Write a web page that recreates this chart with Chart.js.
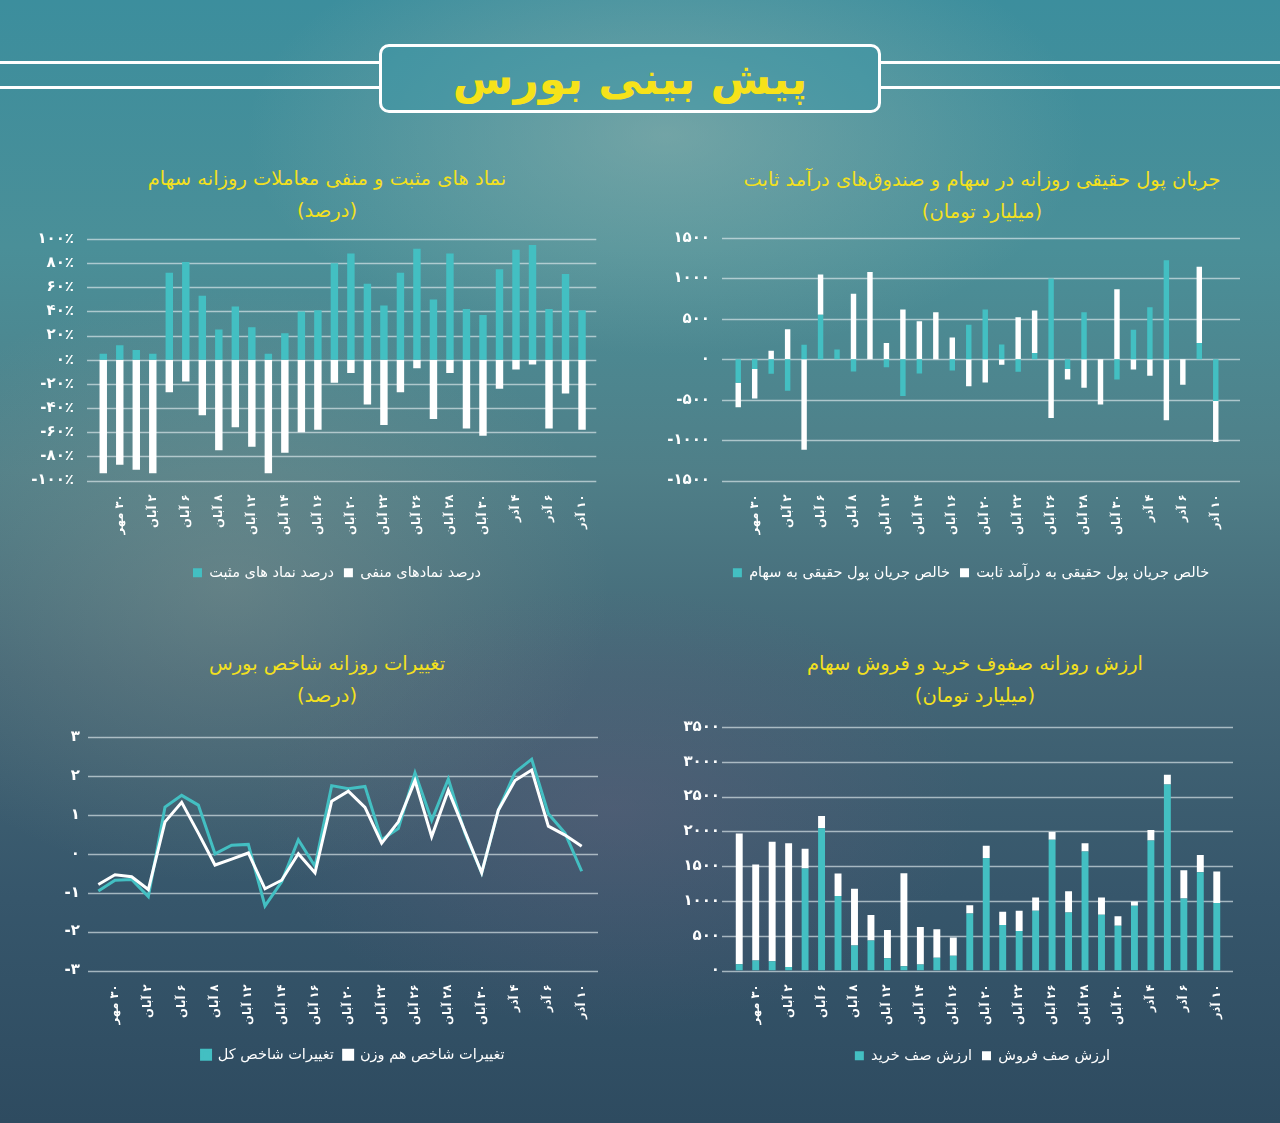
<!DOCTYPE html>
<html lang="fa">
<head>
<meta charset="utf-8">
<script src="https://cdn.jsdelivr.net/npm/chart.js@4.4.0/dist/chart.umd.min.js"></script>
<style>
html, body { margin: 0; padding: 0; }
body {
  width: 1280px; height: 1123px; position: relative; overflow: hidden;
  font-family: 'DejaVu Sans', sans-serif;
  background:
    radial-gradient(ellipse 420px 220px at 52% 12%, rgba(170,190,180,0.45), rgba(170,190,180,0) 100%),
    radial-gradient(ellipse 380px 300px at 18% 52%, rgba(150,160,150,0.35), rgba(150,160,150,0) 100%),
    radial-gradient(ellipse 360px 220px at 48% 72%, rgba(110,95,125,0.35), rgba(110,95,125,0) 100%),
    linear-gradient(180deg, #3c8e9d 0%, #4a8f98 22%, #4f7f88 42%, #436676 60%, #36566b 80%, #2e4b60 100%);
}
.hline { position: absolute; height: 3px; background: #fff; }
.titlebox {
  position: absolute; left: 379px; top: 44px; width: 496px; height: 63px;
  border: 3px solid #fff; border-radius: 10px; background: rgba(60,150,165,0.5);
  color: #f6e21a; font-size: 44px; font-weight: bold; text-align: center; line-height: 63px;
  direction: rtl;
}
.ctitle {
  position: absolute; color: #f3e01e; font-size: 19.5px; text-align: center;
  direction: rtl; line-height: 32px;
}
.wrap { position: absolute; }
</style>
</head>
<body>

<div class="hline" style="left:0;top:61px;width:379px"></div>
<div class="hline" style="left:0;top:86px;width:379px"></div>
<div class="hline" style="left:881px;top:61px;width:399px"></div>
<div class="hline" style="left:881px;top:86px;width:399px"></div>
<div class="titlebox">پیش بینی بورس</div>

<div class="ctitle" style="left:30px;top:163px;width:594px">نماد های مثبت و منفی معاملات روزانه سهام<br>(درصد)</div>
<div class="ctitle" style="left:685px;top:164px;width:594px">جریان پول حقیقی روزانه در سهام و صندوق‌های درآمد ثابت<br>(میلیارد تومان)</div>
<div class="ctitle" style="left:30px;top:648px;width:594px">تغییرات روزانه شاخص بورس<br>(درصد)</div>
<div class="ctitle" style="left:678px;top:648px;width:594px">ارزش روزانه صفوف خرید و فروش سهام<br>(میلیارد تومان)</div>

<div class="wrap" style="left:20px;top:209px;width:582px;height:381px"><canvas id="chartPct"></canvas></div>
<div class="wrap" style="left:650px;top:209px;width:600px;height:381px"><canvas id="chartFlow"></canvas></div>
<div class="wrap" style="left:20px;top:718px;width:590px;height:354px"><canvas id="chartIndex"></canvas></div>
<div class="wrap" style="left:650px;top:707px;width:595px;height:366px"><canvas id="chartQueue"></canvas></div>

<script>
// tick labels (every second trading day is labelled)
var tickLabels = ['۳۰ مهر', '۲ آبان', '۶ آبان', '۸ آبان', '۱۲ آبان', '۱۴ آبان', '۱۶ آبان', '۲۰ آبان',
                  '۲۲ آبان', '۲۶ آبان', '۲۸ آبان', '۳۰ آبان', '۴ آذر', '۶ آذر', '۱۰ آذر'];

// positive / negative symbols (%)
var posPct = [5, 12, 8, 5, 72, 81, 53, 25, 44, 27, 5, 22, 40, 41, 80, 88, 63, 45, 72, 92, 50, 88, 42, 37, 75, 91, 95, 42, 71, 41];
var negPct = [-94, -87, -91, -94, -27, -18, -46, -75, -56, -72, -94, -77, -60, -58, -19, -11, -37, -54, -27, -7, -49, -11, -57, -63, -24, -8, -4, -57, -28, -58];

// real money flow (billion toman)
var flowStock = [-290, -120, -180, -390, 180, 550, 120, -150, 0, -100, -455, -175, 0, -138, 427, 614, 183, -154, 77, 1000, -122, 581, 0, -252, 366, 642, 1224, 0, 200, -516];
var flowFixed = [-305, -365, 105, 370, -1120, 500, 0, 810, 1080, 200, 615, 470, 580, 268, -333, -289, -69, 520, 525, -728, -130, -354, -560, 866, -126, -203, -756, -315, 945, -508];

// index change (%)
var totalIndex = [-0.96, -0.68, -0.66, -1.10, 1.20, 1.50, 1.25, 0.0, 0.22, 0.24, -1.34, -0.72, 0.36, -0.32, 1.75, 1.67, 1.73, 0.36, 0.65, 2.08, 0.86, 1.92, 0.53, -0.49, 1.12, 2.09, 2.43, 1.03, 0.53, -0.45];
var ewIndex = [-0.79, -0.54, -0.59, -0.92, 0.82, 1.32, 0.53, -0.29, -0.14, 0.02, -0.90, -0.68, 0.0, -0.49, 1.35, 1.61, 1.19, 0.27, 0.82, 1.88, 0.44, 1.63, 0.57, -0.49, 1.12, 1.88, 2.15, 0.71, 0.48, 0.19];

// buy / sell queues (billion toman)
var buyQueue = [90, 142, 133, 52, 1465, 2044, 1072, 360, 431, 175, 62, 85, 185, 213, 820, 1617, 654, 569, 858, 1878, 834, 1712, 801, 645, 929, 1868, 2674, 1034, 1413, 972];
var sellQueue = [1878, 1380, 1716, 1778, 285, 175, 322, 816, 366, 408, 1337, 541, 408, 261, 119, 175, 190, 289, 190, 113, 304, 118, 247, 133, 62, 152, 138, 407, 247, 450];

var TEAL = '#43bfc2';
var WHITE = '#ffffff';
var GRID = 'rgba(225,235,238,0.65)';

var cats = [];
for (var i = 0; i < posPct.length; i++) {
  cats.push(i % 2 ? tickLabels[(i - 1) / 2] : '');
}

function toFa(s) {
  return String(s).replace(/\d/g, function (d) { return '۰۱۲۳۴۵۶۷۸۹'[d]; });
}

// horizontal grid lines a bit wider than the bar area (like the excel original)
var extGrid = {
  id: 'extGrid',
  defaults: { left: 0, right: 0 },
  beforeDatasetsDraw: function (chart, args, opts) {
    var y = chart.scales.y, a = chart.chartArea, ctx = chart.ctx;
    ctx.save();
    ctx.strokeStyle = GRID;
    ctx.lineWidth = 1.3;
    y.ticks.forEach(function (t, i) {
      var py = Math.round(y.getPixelForTick(i)) + 0.5;
      ctx.beginPath();
      ctx.moveTo(a.left - opts.left, py);
      ctx.lineTo(a.right + opts.right, py);
      ctx.stroke();
    });
    ctx.restore();
  }
};

// move legend sideways
var legendShift = {
  id: 'legendShift',
  defaults: { dx: 0 },
  afterLayout: function (chart, args, opts) {
    chart.legend.left += opts.dx;
    chart.legend.right += opts.dx;
  }
};

Chart.register(extGrid, legendShift);
Chart.defaults.font.family = "'DejaVu Sans', sans-serif";
Chart.defaults.color = '#ffffff';
Chart.defaults.animation = false;
Chart.defaults.maintainAspectRatio = false;
Chart.defaults.plugins.tooltip.enabled = false;

function xAxis(h) {
  return {
    stacked: true,
    grid: { display: false },
    border: { display: false },
    ticks: {
      autoSkip: false, minRotation: 90, maxRotation: 90, padding: 6,
      color: '#fff', font: { size: 11.5, weight: 'bold' },
      // RLM so the day number reads first (right-to-left)
      callback: function (v, i) { return cats[i] ? '\u200F' + cats[i] : ''; }
    },
    afterFit: function (s) { s.height = h; }
  };
}

function yAxis(min, max, step, w, pad, fmt) {
  return {
    stacked: true, min: min, max: max,
    grid: { display: false, drawTicks: false },
    border: { display: false },
    ticks: {
      stepSize: step, padding: pad, color: '#fff',
      font: { size: 15, weight: 'bold' },
      callback: fmt
    },
    afterFit: function (s) { s.width = w; }
  };
}

function legendOpts(rev) {
  return {
    position: 'bottom', reverse: !!rev,
    labels: { boxWidth: 9, boxHeight: 9, padding: 10, color: '#fff', font: { size: 14.5 } }
  };
}

new Chart(document.getElementById('chartPct'), {
  type: 'bar',
  data: {
    labels: cats,
    datasets: [
      { label: 'درصد نماد های مثبت', data: posPct, backgroundColor: TEAL, barPercentage: 0.45, categoryPercentage: 1 },
      { label: 'درصد نمادهای منفی', data: negPct, backgroundColor: WHITE, barPercentage: 0.45, categoryPercentage: 1 }
    ]
  },
  options: {
    layout: { padding: { top: 10, right: 10, bottom: 0, left: 0 } },
    scales: {
      x: xAxis(75),
      y: yAxis(-100, 100, 20, 75, 21, function (v) { return (v < 0 ? '-' : '') + toFa(Math.abs(v)) + '٪'; })
    },
    plugins: { legend: legendOpts(), extGrid: { left: 8, right: 6 }, legendShift: { dx: 31 } }
  }
});

new Chart(document.getElementById('chartFlow'), {
  type: 'bar',
  data: {
    labels: cats,
    datasets: [
      { label: 'خالص جریان پول حقیقی به سهام', data: flowStock, backgroundColor: TEAL, barPercentage: 0.33, categoryPercentage: 1 },
      { label: 'خالص جریان پول حقیقی به درآمد ثابت', data: flowFixed, backgroundColor: WHITE, barPercentage: 0.33, categoryPercentage: 1 }
    ]
  },
  options: {
    layout: { padding: { top: 10, right: 26, bottom: 0, left: 0 } },
    scales: {
      x: xAxis(75),
      y: yAxis(-1500, 1500, 500, 80, 20, function (v) { return (v < 0 ? '-' : '') + toFa(Math.abs(v)); })
    },
    plugins: { legend: legendOpts(), extGrid: { left: 8, right: 16 }, legendShift: { dx: 34 } }
  }
});

new Chart(document.getElementById('chartIndex'), {
  type: 'line',
  data: {
    labels: cats,
    datasets: [
      { label: 'تغییرات شاخص هم وزن', data: ewIndex, borderColor: WHITE, backgroundColor: WHITE, borderWidth: 3, pointRadius: 0, tension: 0 },
      { label: 'تغییرات شاخص کل', data: totalIndex, borderColor: TEAL, backgroundColor: TEAL, borderWidth: 3, pointRadius: 0, tension: 0 }
    ]
  },
  options: {
    layout: { padding: { top: 10, right: 20, bottom: 0, left: 0 } },
    scales: {
      x: Object.assign(xAxis(67), { offset: true, stacked: false }),
      y: Object.assign(yAxis(-3, 3, 1, 70, 10, function (v) { return (v < 0 ? '-' : '') + toFa(Math.abs(v)); }), { stacked: false })
    },
    plugins: { legend: legendOpts(true), extGrid: { left: 2, right: 8 }, legendShift: { dx: 48 } }
  }
});

new Chart(document.getElementById('chartQueue'), {
  type: 'bar',
  data: {
    labels: cats,
    datasets: [
      { label: 'ارزش صف خرید', data: buyQueue, backgroundColor: TEAL, barPercentage: 0.42, categoryPercentage: 1 },
      { label: 'ارزش صف فروش', data: sellQueue, backgroundColor: WHITE, barPercentage: 0.42, categoryPercentage: 1 }
    ]
  },
  options: {
    layout: { padding: { top: 10, right: 20, bottom: 0, left: 0 } },
    scales: {
      x: xAxis(68),
      y: yAxis(0, 3500, 500, 81, 11, function (v) { return toFa(v); })
    },
    plugins: { legend: legendOpts(), extGrid: { left: 9, right: 8 }, legendShift: { dx: 45 } }
  }
});
</script>
</body>
</html>
